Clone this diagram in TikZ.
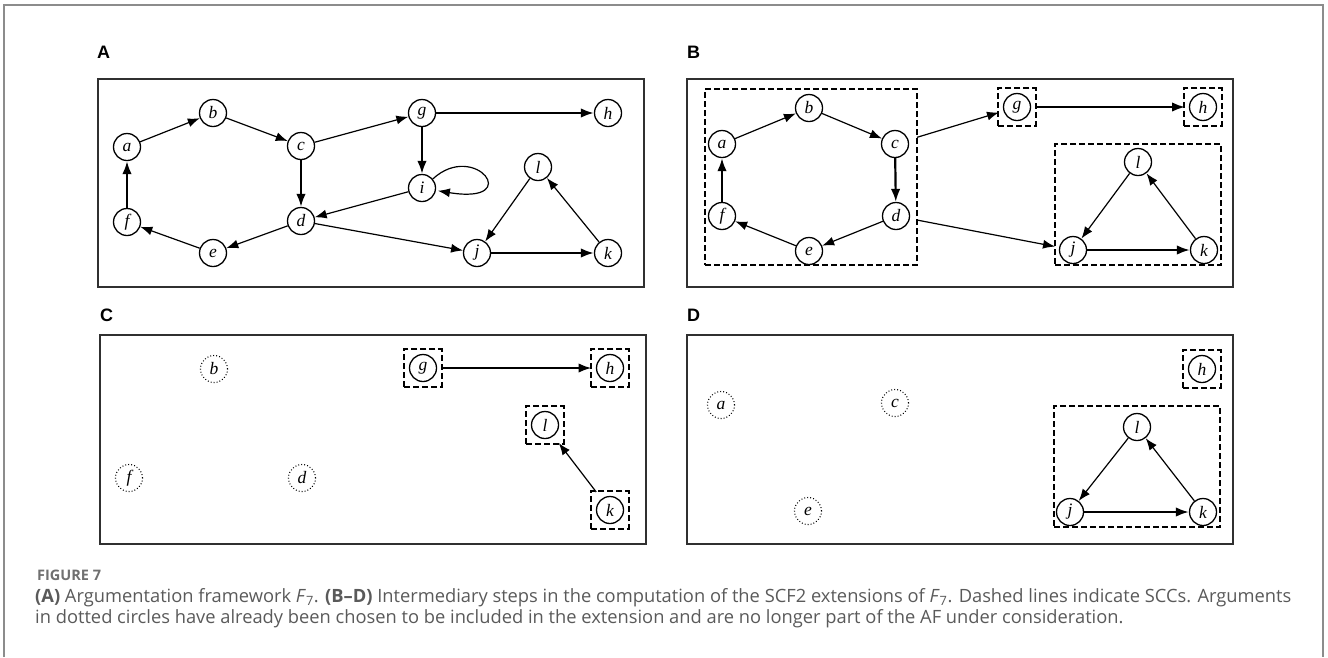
\documentclass[tikz,border=0pt]{standalone}
\usepackage{fontspec}
\setmainfont{Liberation Serif}
\newfontfamily\capfont{Open Sans}
\newfontfamily\labfont{Liberation Sans}
\usetikzlibrary{arrows.meta,fit}
\definecolor{frameg}{HTML}{8C8C8C}
\definecolor{captext}{HTML}{5A5A5A}
\definecolor{caphead}{HTML}{707070}
\definecolor{panelc}{HTML}{303030}
\begin{document}
\begin{tikzpicture}[x=1pt,y=-1pt,
  arg/.style={circle,draw,line width=1.3pt,minimum size=27pt,inner sep=0pt,
    font=\fontsize{17.5}{17.5}\selectfont\itshape},
  done/.style={arg,line width=1.1pt,dash pattern=on 0.9pt off 2.1pt},
  tedge/.style={-{Latex[length=12pt,width=9pt]},line width=1.2pt},
  Tedge/.style={-{Latex[length=13pt,width=9.5pt]},line width=2.2pt},
  panel/.style={draw=panelc,line width=1.8pt},
  scc/.style={draw,line width=2pt,dash pattern=on 6pt off 3pt,inner sep=0pt},
  sccone/.style={scc,inner sep=4.5pt},
  plabel/.style={font=\labfont\bfseries\fontsize{18}{18}\selectfont,inner sep=0pt,anchor=west},
  capline/.style={font=\capfont\fontsize{18.3}{18.3}\selectfont,text=captext,inner sep=0pt,anchor=base west}
]
\useasboundingbox (0,0) rectangle (1328,657);
\fill[white] (0,0) rectangle (1328,657);
\draw[frameg,line width=1.5pt] (4,657) -- (4,5) -- (1323,5) -- (1323,657);

% ---------------- panel labels and boxes
\node[plabel] (LA) at (97,52) {A};
\node[plabel] (LB) at (687,52) {B};
\node[plabel] (LC) at (100,315) {C};
\node[plabel] (LD) at (687,315) {D};
\draw[panel] (98,79) rectangle (644,287);
\draw[panel] (687,79) rectangle (1233,287);
\draw[panel] (100,335) rectangle (646,544);
\draw[panel] (687,335) rectangle (1233,544);

% ---------------- panel A
\node[arg] (aA) at (127,147) {a};
\node[arg] (bA) at (213,113) {b};
\node[arg] (cA) at (301,146) {c};
\node[arg] (dA) at (301,221) {d};
\node[arg] (eA) at (213,253) {e};
\node[arg] (fA) at (127,222) {f};
\node[arg] (gA) at (422,113) {g};
\node[arg] (hA) at (608,113) {h};
\node[arg] (iA) at (422,188) {i};
\node[arg] (jA) at (477,253) {j};
\node[arg] (kA) at (608,253) {k};
\node[arg] (lA) at (538,167) {l};
\draw[tedge] (aA) -- (bA);
\draw[tedge] (bA) -- (cA);
\draw[tedge] (cA) -- (gA);
\draw[Tedge] (cA) -- (dA);
\draw[Tedge] (gA) -- (hA);
\draw[Tedge] (gA) -- (iA);
\draw[tedge,shorten >=2pt] (iA.40) .. controls (475,140) and (525,205) .. (iA.-10);
\draw[tedge] (iA) -- (dA);
\draw[tedge] (dA) -- (eA);
\draw[tedge] (eA) -- (fA);
\draw[Tedge] (fA) -- (aA);
\draw[tedge] (dA) -- (jA);
\draw[Tedge] (jA) -- (kA);
\draw[tedge] (kA) -- (lA);
\draw[tedge] (lA) -- (jA);

% ---------------- panel B
\node[arg] (aB) at (722,144) {a};
\node[arg] (bB) at (809,108) {b};
\node[arg] (cB) at (895,144) {c};
\node[arg] (dB) at (896,216) {d};
\node[arg] (eB) at (809,251) {e};
\node[arg] (fB) at (722,216) {f};
\node[arg] (gB) at (1017,107) {g};
\node[arg] (hB) at (1203,107) {h};
\node[arg] (lB) at (1138,162) {l};
\node[arg] (jB) at (1073,250) {j};
\node[arg] (kB) at (1204,250) {k};
\node[scc,fit={(705,89) (917,265)}] (S1B) {};
\node[sccone,fit=(gB)] (SgB) {};
\node[sccone,fit=(hB)] (ShB) {};
\node[scc,fit={(1055,144) (1221,265)}] (S2B) {};
\draw[tedge] (aB) -- (bB);
\draw[tedge] (bB) -- (cB);
\draw[Tedge] (cB) -- (dB);
\draw[tedge] (dB) -- (eB);
\draw[tedge] (eB) -- (fB);
\draw[Tedge] (fB) -- (aB);
\draw[tedge,shorten <=23pt,shorten >=18.8pt] (cB.center) -- (gB.center);
\draw[Tedge,shorten <=18pt,shorten >=18pt] (gB.center) -- (hB.center);
\draw[tedge,shorten <=21.4pt,shorten >=18.3pt] (dB.center) -- (jB.center);
\draw[tedge] (lB) -- (jB);
\draw[Tedge] (jB) -- (kB);
\draw[tedge] (kB) -- (lB);

% ---------------- panel C
\node[done] (bC) at (214,369) {b};
\node[done] (fC) at (129,478) {f};
\node[done] (dC) at (302,478) {d};
\node[arg] (gC) at (423,368) {g};
\node[arg] (hC) at (610,368) {h};
\node[arg] (lC) at (545,425) {l};
\node[arg] (kC) at (610,510) {k};
\node[sccone,fit=(gC)] (SgC) {};
\node[sccone,fit=(hC)] (ShC) {};
\node[sccone,fit=(lC)] (SlC) {};
\node[sccone,fit=(kC)] (SkC) {};
\draw[Tedge,shorten <=18.5pt,shorten >=18.5pt] (gC.center) -- (hC.center);
\draw[tedge,shorten <=22.7pt,shorten >=22.7pt] (kC.center) -- (lC.center);

% ---------------- panel D
\node[done] (aD) at (721,405) {a};
\node[done] (cD) at (895,403) {c};
\node[done] (eD) at (808,511) {e};
\node[arg] (hD) at (1202,369) {h};
\node[arg] (lD) at (1137,427) {l};
\node[arg] (jD) at (1070,512) {j};
\node[arg] (kD) at (1203,512) {k};
\node[sccone,fit=(hD)] (ShD) {};
\node[scc,fit={(1054,406) (1220,527)}] (SD) {};
\draw[tedge] (lD) -- (jD);
\draw[Tedge] (jD) -- (kD);
\draw[tedge] (kD) -- (lD);

% ---------------- caption
\node[capline,text=caphead,font=\capfont\bfseries\fontsize{14.5}{14.5}\selectfont] (cap0) at (37,580) {FIGURE 7};
\node[capline] (cap1) at (35,602) {\textbf{(A)} Argumentation framework \textit{F}\textsubscript{7}. \textbf{(B–D)} Intermediary steps in the computation of the SCF2 extensions of \textit{F}\textsubscript{7}. Dashed lines indicate SCCs. Arguments};
\node[capline] (cap2) at (35,623) {in dotted circles have already been chosen to be included in the extension and are no longer part of the AF under consideration.};
\end{tikzpicture}
\end{document}
